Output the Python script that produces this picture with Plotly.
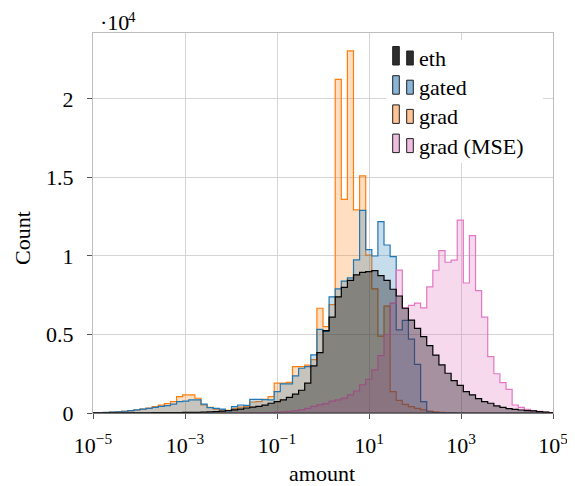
import numpy as np
import plotly.graph_objects as go

# ---- histogram definition (log10 bin range) ----
LOG_MIN, LOG_MAX, N_BINS = -5.04, 5.04, 76

eth = [2, 3, 4, 5, 6, 8, 10, 12, 14, 16,
       18, 20, 24, 28, 32, 36, 40, 45, 55, 70,
       90, 120, 160, 200, 250, 320, 370, 420, 500, 620,
       720, 830, 1000, 1200, 1450, 1900, 3000, 3840, 5240, 6100,
       7400, 8000, 8450, 8800, 8950, 9000, 9070, 8750, 8450, 7880,
       7450, 6670, 5920, 5390, 4860, 4290, 3690, 3060, 2530, 2060,
       1760, 1360, 1150, 910, 720, 620, 450, 360, 280, 230,
       190, 150, 130, 90, 60, 30]

gated = [20, 30, 40, 60, 80, 110, 150, 200, 250, 300,
         360, 420, 470, 570, 720, 760, 830, 830, 570, 340,
         290, 250, 130, 400, 510, 480, 870, 870, 850, 830,
         1360, 1850, 1850, 2360, 2850, 2950, 3700, 5330, 5200, 7400,
         7900, 8400, 8600, 9750, 12900, 10400, 10000, 12190, 10700, 9960,
         5300, 5900, 4700, 3100, 720, 80, 30, 15, 10, 5,
         0, 0, 0, 0, 0, 0, 0, 0, 0, 0,
         0, 0, 0, 0, 0, 0]

grad = [10, 20, 30, 50, 70, 100, 140, 190, 250, 320,
        400, 500, 600, 720, 1040, 1150, 1150, 940, 510, 360,
        250, 200, 170, 290, 380, 420, 700, 720, 870, 1040,
        1900, 1900, 1950, 2950, 2950, 3050, 3400, 6670, 5500, 6900,
        21250, 13610, 23060, 12930, 15100, 10060, 7900, 4900, 6800, 1360,
        800, 550, 400, 300, 200, 120, 70, 40, 20, 10,
        0, 0, 0, 0, 0, 0, 0, 0, 0, 0,
        0, 0, 0, 0, 0, 0]

grad_mse = [0, 0, 0, 0, 0, 0, 0, 0, 0, 0,
            0, 0, 0, 0, 0, 0, 0, 0, 0, 0,
            0, 0, 0, 0, 0, 0, 5, 10, 15, 30,
            50, 80, 110, 150, 200, 300, 420, 520, 600, 750,
            830, 950, 1150, 1400, 1800, 2150, 2750, 3650, 5000, 7000,
            9100, 6700, 6850, 7000, 6700, 8030, 9090, 10340, 9600, 9730,
            12280, 8280, 11300, 7790, 6100, 3590, 2500, 1930, 1510, 510,
            360, 230, 150, 100, 60, 30]

series_names = ["eth", "gated", "grad", "grad (MSE)"]
x_tick_exps = [-5, -3, -1, 1, 3, 5]
y_tick_vals = [0, 5000, 10000, 15000, 20000]
y_tick_text = ["0", "0.5", "1", "1.5", "2"]

# ---- styles ----
FONT = "Liberation Serif"
FS = 22
line_cols = {"eth": "#000000", "gated": "#1f77b4", "grad": "#ff7f0e", "grad (MSE)": "#e377c2"}
fill_cols = {"eth": "rgba(0,0,0,0.33)", "gated": "rgba(31,119,180,0.25)",
             "grad": "rgba(255,127,14,0.26)", "grad (MSE)": "rgba(227,119,194,0.28)"}
icon_fill = {"eth": "rgb(45,45,45)", "gated": "rgb(137,182,216)",
             "grad": "rgb(255,196,150)", "grad (MSE)": "rgb(238,190,224)"}

edges = 10 ** np.linspace(LOG_MIN, LOG_MAX, N_BINS + 1)


def step_xy(counts):
    xs = [edges[0]] + list(edges)
    ys = [0] + list(counts) + [0]
    return xs, ys


data = {"eth": eth, "gated": gated, "grad": grad, "grad (MSE)": grad_mse}

fig = go.Figure()
for name in ["grad", "gated", "grad (MSE)", "eth"]:
    xs, ys = step_xy(data[name])
    fig.add_trace(go.Scatter(
        x=xs, y=ys, mode="lines", name=name,
        line=dict(shape="hv", color=line_cols[name], width=1.2),
        fill="tozeroy", fillcolor=fill_cols[name],
        showlegend=False, hoverinfo="skip"))

# ---- layout geometry ----
# the page adds an 8px body margin, so the figure is 8px smaller and offset
OFF = 8
W, H = 575 - OFF, 486 - OFF
PX0, PX1, PY0, PY1 = 93, 553, 33, 413          # plot area in screen pixels
L, T = PX0 - OFF, PY0 - OFF
R, B = W + OFF - PX1, H + OFF - PY1
pw, ph = PX1 - PX0, PY1 - PY0


def px(xp):
    return (xp - PX0) / pw


def py(yp):
    return (PY1 - yp) / ph


shapes = []
annotations = []

# dark base line along y = 0
shapes.append(dict(type="line", xref="paper", yref="paper", layer="above",
                   x0=0, x1=1, y0=0, y1=0, line=dict(color="#333333", width=1.2)))

# legend background
shapes.append(dict(type="rect", xref="paper", yref="paper", layer="above",
                   x0=px(386), x1=px(543), y0=py(163), y1=py(40),
                   fillcolor="white", line=dict(width=0)))
for r, name in enumerate(series_names):
    yb = 65 + 29.2 * r
    shapes.append(dict(type="rect", xref="paper", yref="paper", layer="above",
                       x0=px(392.7), x1=px(399.3), y0=py(yb), y1=py(yb - 18.5),
                       fillcolor=icon_fill[name], line=dict(color="rgb(30,30,30)", width=1)))
    shapes.append(dict(type="rect", xref="paper", yref="paper", layer="above",
                       x0=px(406.7), x1=px(413.3), y0=py(yb), y1=py(yb - 14),
                       fillcolor=icon_fill[name], line=dict(color="rgb(30,30,30)", width=1)))
    annotations.append(dict(text=name, xref="paper", yref="paper", x=px(417), y=py(yb - 6.5),
                            xanchor="left", yanchor="middle", showarrow=False,
                            font=dict(family=FONT, size=FS, color="black")))

# axis multiplier "·10^4" (exponent as its own small text so nothing is clipped)
annotations.append(dict(text="·10", xref="paper", yref="paper", x=px(99), y=py(22),
                        xanchor="left", yanchor="middle", showarrow=False, borderpad=0,
                        font=dict(family=FONT, size=FS, color="black")))
annotations.append(dict(text="4", xref="paper", yref="paper", x=px(127), y=py(17),
                        xanchor="left", yanchor="middle", showarrow=False, borderpad=0,
                        font=dict(family=FONT, size=15, color="black")))
annotations.append(dict(text="Count", xref="paper", yref="paper", x=px(22), y=py(238),
                        xanchor="center", yanchor="middle", textangle=-90, showarrow=False,
                        font=dict(family=FONT, size=FS, color="black")))
annotations.append(dict(text="amount", xref="paper", yref="paper", x=px(322), y=py(473),
                        xanchor="center", yanchor="middle", showarrow=False,
                        font=dict(family=FONT, size=FS, color="black")))

fig.update_layout(
    width=W, height=H,
    margin=dict(l=L, r=R, t=T, b=B, pad=0, autoexpand=False),
    paper_bgcolor="white", plot_bgcolor="white",
    font=dict(family=FONT, size=FS, color="black"),
    shapes=shapes, annotations=annotations,
    xaxis=dict(type="log", range=[-5, 5], automargin=False,
               tickvals=[10.0 ** e for e in x_tick_exps],
               ticktext=["10<sup>" + ("−" if e < 0 else "") + str(abs(e)) + "</sup>" for e in x_tick_exps],
               showgrid=True, gridcolor="#d4d4d4", gridwidth=1,
               showline=True, linecolor="#bdbdbd", linewidth=1, mirror=True,
               ticks="outside", ticklen=5, tickcolor="#555555", ticklabelstandoff=8,
               zeroline=False, tickfont=dict(family=FONT, size=FS, color="black")),
    yaxis=dict(range=[0, 24200], automargin=False,
               tickvals=y_tick_vals, ticktext=y_tick_text,
               showgrid=True, gridcolor="#d4d4d4", gridwidth=1,
               showline=True, linecolor="#bdbdbd", linewidth=1, mirror=True,
               ticks="outside", ticklen=5, tickcolor="#555555", ticklabelstandoff=9,
               zeroline=False, tickfont=dict(family=FONT, size=FS, color="black")),
)

fig.write_html("out.html")
